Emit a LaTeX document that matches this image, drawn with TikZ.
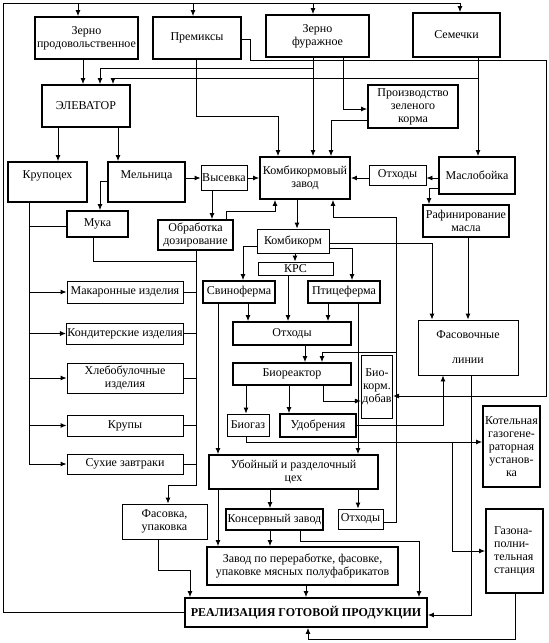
\documentclass[tikz,border=0pt]{standalone}
\usepackage{fontspec}
\setmainfont{Liberation Serif}
\usetikzlibrary{arrows.meta}

\begin{document}
\begin{tikzpicture}[x=1pt,y=-1pt,line width=0.9pt,
  box/.style={draw, line width=0.9pt, align=center, inner sep=1pt, font=\fontsize{12}{13}\selectfont},
  tbox/.style={box, line width=1.8pt},
  wh/.style 2 args={minimum width=#1pt, minimum height=#2pt},
  arr/.style={-{Latex[length=6pt,width=5pt]}}]
  \useasboundingbox (0,0) rectangle (549,643);

  % raw materials
  \node[tbox, wh={103}{42}] (zprod) at (86.5,38) {Зерно\\продовольственное};
  \node[tbox, wh={88}{42}] (premix) at (197,38) {Премиксы};
  \node[tbox, wh={103}{42}] (zfur) at (317.5,36) {Зерно\\фуражное};
  \node[tbox, wh={87}{44}] (seeds) at (456.5,35) {Семечки};
  \node[tbox, wh={88}{42}] (elev) at (86,106) {ЭЛЕВАТОР};
  \node[tbox, wh={90}{43}] (green) at (413,106.5) {Производство\\зеленого\\корма};

  % processing
  \node[tbox, wh={79}{40}, text depth=14pt] (krupo) at (47.5,182) {Крупоцех};
  \node[tbox, wh={77}{40}, text depth=14pt] (mill) at (146.5,182) {Мельница};
  \node[box, wh={46}{25}] (vysev) at (224,177.5) {Высевка};
  \node[tbox, wh={90}{42}] (kombz) at (305,178) {Комбикормовый\\завод};
  \node[box, wh={57}{20}] (otx1) at (397.5,175) {Отходы};
  \node[tbox, wh={76}{37}] (maslo) at (477,175.5) {Маслобойка};
  \node[tbox, wh={61}{26}] (flour) at (97.5,224) {Мука};
  \node[tbox, wh={75}{30}] (obrab) at (195.5,235) {Обработка\\дозирование};
  \node[box, wh={72}{24}] (kombi) at (293,241) {Комбикорм};
  \node[tbox, wh={86}{32}] (rafin) at (466,221) {Рафинирование\\масла};
  \node[box, wh={75}{13}] (krs) at (295.5,268.5) {КРС};
  \node[tbox, wh={72}{22}] (pig) at (239,292) {Свиноферма};
  \node[tbox, wh={72}{22}] (poultry) at (344,292) {Птицеферма};

  % products of grain
  \node[box, wh={116}{22}] (pasta) at (125,292) {Макаронные изделия};
  \node[box, wh={116}{21}] (confect) at (125,333.5) {Кондитерские изделия};
  \node[box, wh={116}{30}] (bakery) at (125,378) {Хлебобулочные\\изделия};
  \node[box, wh={116}{21}] (groats) at (125,425.5) {Крупы};
  \node[box, wh={116}{20}] (cereal) at (125,464) {Сухие завтраки};

  % waste and bio
  \node[tbox, wh={118}{23}] (otx2) at (292,333.5) {Отходы};
  \node[box, wh={100}{55}] (pack) at (468,347.5) {Фасовочные\\[12pt]линии};
  \node[tbox, wh={118}{22}] (bioreact) at (292,374) {Биореактор};
  \node[box, wh={28}{63}] (bioadd) at (377,386.5) {Био-\\корм.\\добав};
  \node[box, wh={42}{22}] (biogas) at (248,425) {Биогаз};
  \node[tbox, wh={76}{23}] (fert) at (318,425.5) {Удобрения};
  \node[tbox, wh={57}{81}] (boiler) at (511.5,446.5) {Котельная\\газогене-\\раторная\\установ-\\ка};

  % meat
  \node[tbox, wh={169}{34}] (slaught) at (293.5,472) {Убойный и разделочный\\цех};
  \node[box, wh={85}{35}] (packpack) at (164.5,521.5) {Фасовка,\\упаковка};
  \node[tbox, wh={97}{21}] (cannery) at (274.5,519.5) {Консервный завод};
  \node[box, wh={45}{20}] (otx3) at (360.5,519) {Отходы};
  \node[tbox, wh={57}{84}, align=left] (gasst) at (514.5,551) {Газона-\\полни-\\тельная\\станция};
  \node[tbox, wh={191}{38}] (semif) at (302.5,566) {Завод по переработке, фасовке,\\упаковке мясных полуфабрикатов};
  \node[tbox, wh={242}{29}, font=\fontsize{12}{13}\selectfont\bfseries] (sales) at (306,612.5) {РЕАЛИЗАЦИЯ ГОТОВОЙ ПРОДУКЦИИ};

  \coordinate (top) at (3,3);
  \coordinate (busL) at (29,0);
  \coordinate (busR) at (196,0);

  % return loop
  \draw[arr] (sales.west) -| (top) -| (seeds.north -| 460,0);
  \draw[arr] (top -| 78,0) -- (zprod.north -| 78,0);
  \draw[arr] (top -| 193,0) -- (premix.north -| 193,0);
  \draw[arr] (top -| 313,0) -- (zfur.north -| 313,0);

  % raw materials
  \draw[arr] (zprod.south -| 83,0) -- (elev.north -| 83,0);
  \draw[arr] (zfur.south -| 313,0) -- (kombz.north -| 313,0);
  \draw[arr] (zfur.south -| 313,0) |- (100,68) -- (elev.north -| 100,0);
  \draw[arr] (zfur.south -| 343,0) |- (green.west |- 0,109);
  \draw[arr] (green.west |- 0,120) -| (kombz.north -| 331,0);
  \draw[arr] (premix.south -| 196,0) |- (278,116) -- (kombz.north -| 278,0);
  \draw[arr] (premix.east |- 0,39) -| (250,60) -| (546,396) -- (bioadd.east |- 0,396);
  \draw[arr] (seeds.south -| 478,0) -- (maslo.north -| 478,0);
  \draw[arr] (seeds.south -| 478,0) |- (113,78) -- (elev.north -| 113,0);

  % elevator and mill
  \draw[arr] (elev.south -| 58,0) -- (krupo.north -| 58,0);
  \draw[arr] (elev.south -| 118,0) -- (mill.north -| 118,0);
  \draw[arr] (mill.east |- 0,178) -- (vysev.west |- 0,178);
  \draw[arr] (vysev.east |- 0,178) -- (kombz.west |- 0,178);
  \draw[arr] (vysev.south -| 212,0) -- (obrab.north -| 212,0);
  \draw[arr] (mill.west |- 0,181) -| (flour.north -| 100,0);
  \draw[arr] (obrab.north -| 226,0) |- (275,211) -- (kombz.south -| 275,0);

  % oil
  \draw[arr] (maslo.west |- 0,178) -- (otx1.east |- 0,178);
  \draw[arr] (otx1.west |- 0,178) -- (kombz.east |- 0,178);
  \draw[arr] (maslo.west |- 0,188) -| (rafin.north -| 429,0);
  \draw[arr] (rafin.south -| 468,0) -- (pack.north -| 468,0);

  % grain products
  \draw (krupo.south -| busL) -- (busL |- cereal.west);
  \draw (flour.west |- 0,226) -- (busL |- 0,226);
  \foreach \p in {pasta,confect,bakery,groats,cereal}
    \draw[arr] (\p.west -| busL) -- (\p.west);
  \foreach \p in {pasta,confect,bakery,groats,cereal}
    \draw (\p.east) -- (\p.east -| busR);
  \draw (flour.south -| 93,0) |- (busR |- 0,261);
  \draw[arr] (obrab.south -| busR) -- (busR |- 0,485) -| (packpack.north -| 168,0);
  \draw[arr] (packpack.south -| 158,0) |- (190,570) -- (sales.north -| 190,0);

  % feed
  \draw[arr] (kombz.south -| 297,0) -- (kombi.north -| 297,0);
  \draw[arr] (kombi.west |- 0,246) -| (pig.north -| 243,0);
  \draw[arr] (kombi.east |- 0,248) -| (poultry.north -| 352,0);
  \draw[arr] (kombi.south -| 295,0) -- (krs.north -| 295,0);
  \draw[arr] (kombi.east |- 0,243) -| (pack.north -| 432,0);
  \draw[arr] (krs.south -| 288,0) -- (otx2.north -| 288,0);
  \draw[arr] (pig.south -| 248,0) -- (otx2.north -| 248,0);
  \draw[arr] (pig.south -| 218,0) -- (slaught.north -| 218,0);
  \draw[arr] (poultry.south -| 328,0) -- (otx2.north -| 328,0);
  \draw[arr] (poultry.south -| 358,0) -- (slaught.north -| 358,0);

  % bioreactor
  \draw[arr] (otx2.south -| 305,0) -- (bioreact.north -| 305,0);
  \draw[arr] (bioreact.south -| 246,0) -- (biogas.north -| 246,0);
  \draw[arr] (bioreact.south -| 289,0) -- (fert.north -| 289,0);
  \draw[arr] (bioreact.south -| 323,0) |- (bioadd.west |- 0,401);
  \draw[arr] (fert.east |- 0,425) -| (pack.south -| 443,0);
  \draw[arr] (biogas.south -| 246,0) |- (boiler.west |- 0,442);
  \draw[arr] (452,442) |- (gasst.west |- 0,551);
  \draw[arr] (gasst.south -| 515,0) |- (308,639) -- (sales.south -| 308,0);
  \draw[arr] (pack.south -| 471,0) |- (sales.east |- 0,615);

  % meat
  \draw[arr] (otx3.east |- 0,522) -| (396,217) -| (kombz.south -| 333,0);
  \draw[arr] (396,352) -| (bioreact.north -| 322,0);
  \draw[arr] (slaught.south -| 270,0) -- (cannery.north -| 270,0);
  \draw[arr] (slaught.south -| 358,0) -- (otx3.north -| 358,0);
  \draw[arr] (slaught.south -| 218,0) -- (semif.north -| 218,0);
  \draw[arr] (cannery.south -| 270,0) -- (semif.north -| 270,0);
  \draw[arr] (cannery.south -| 300,0) |- (419,541) -- (sales.north -| 419,0);
  \draw[arr] (semif.south -| 306,0) -- (sales.north -| 306,0);
\end{tikzpicture}
\end{document}
